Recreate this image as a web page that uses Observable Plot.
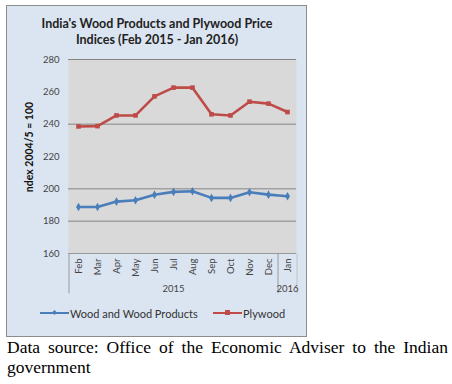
<!DOCTYPE html>
<html><head><meta charset="utf-8">
<script src="https://cdn.jsdelivr.net/npm/d3@7"></script>
<script src="https://cdn.jsdelivr.net/npm/@observablehq/plot@0.6"></script>
<style>
body{margin:0;background:#fff;}
#page{position:relative;width:452px;height:384px;overflow:hidden;}
#panel{position:absolute;left:6px;top:5px;width:299px;height:330px;background:#dbe5f1;border:1.5px solid #8c8c8c;}
#title{position:absolute;left:7px;top:16px;width:300px;text-align:center;font:bold 12.5px Lato,sans-serif;line-height:16px;color:#222;}
#chart{position:absolute;left:7px;top:50px;}
#ylab{position:absolute;left:29px;top:147px;transform:translate(-50%,-50%) rotate(-90deg);font:bold 10.5px Lato,sans-serif;white-space:nowrap;color:#111;}
#legend{position:absolute;top:306px;left:0;width:310px;font:11px Lato,sans-serif;color:#333;}
.lg{position:absolute;top:0;display:flex;align-items:center;height:14px;white-space:nowrap;}
.sw{display:inline-block;width:29px;height:2.5px;position:relative;margin-right:1px;}
#caption{position:absolute;left:7px;top:337px;width:441px;font:17.5px "Liberation Serif","Times New Roman",serif;line-height:20px;text-align:justify;text-align-last:left;color:#000;}
</style></head>
<body>
<div id="page">
<div id="panel"></div>
<div id="title">India's Wood Products and Plywood Price<br>Indices (Feb 2015 - Jan 2016)</div>
<div id="chart"></div>
<div id="ylab">ndex 2004/5 = 100</div>
<div id="legend"></div>
<div id="caption">Data source: Office of the Economic Adviser to the Indian government</div>
</div>
<script>
const months = ["Feb","Mar","Apr","May","Jun","Jul","Aug","Sep","Oct","Nov","Dec","Jan"];
const wood = [188.8,188.8,192.1,192.9,196.3,198.1,198.5,194.4,194.4,197.9,196.4,195.4];
const plywood = [238.6,238.8,245.4,245.4,257.2,262.6,262.6,246.1,245.4,253.9,252.7,247.5];
const seriesNames = ["Wood and Wood Products","Plywood"];
const seriesColors = ["#4a7ebb","#be4b48"];
const yTicks = [160,180,200,220,240,260,280];
const gridValues = [180,200,240,280];
const groupLabels = ["2015","2016"];
const groupAt = ["Jul","Jan"];
const groupEdges = ["Feb","Dec","Jan"];

const woodData = months.map((m,i)=>({month:m,value:wood[i]}));
const plyData = months.map((m,i)=>({month:m,value:plywood[i]}));

const chart = Plot.plot({
  width:300, height:250,
  marginLeft:61, marginRight:11, marginTop:9, marginBottom:47,
  style:{background:"transparent",fontFamily:"Lato, sans-serif",color:"#333",overflow:"visible"},
  x:{type:"point",domain:months,padding:0.5},
  y:{domain:[160,280]},
  marks:[
    Plot.frame({fill:"#d9d9d9",stroke:null}),
    Plot.ruleY(gridValues,{stroke:"#858585",strokeWidth:1}),
    Plot.ruleY([160],{stroke:"#9a9a9a",strokeWidth:1}),
    Plot.axisY({ticks:yTicks,tickSize:0,tickPadding:9,fontSize:9.5,label:null,fill:"#444"}),
    Plot.axisX({tickSize:0,tickPadding:5,tickRotate:-90,fontSize:9.5,label:null,fill:"#444"}),
    Plot.ruleX([groupEdges[0]],{dx:-9.5,y1:160,y2:135,stroke:"#9a9a9a"}),
    Plot.ruleX([groupEdges[1]],{dx:9.5,y1:160,y2:135,stroke:"#9a9a9a"}),
    Plot.ruleX([groupEdges[2]],{dx:9.5,y1:160,y2:135,stroke:"#c4c4c4"}),
    Plot.text(groupLabels,{x:(d,i)=>groupAt[i],y:138.2,text:d=>d,fontSize:9.5,fill:"#444"}),
    Plot.line(plyData,{x:"month",y:"value",stroke:seriesColors[1],strokeWidth:2.6}),
    Plot.dot(plyData,{x:"month",y:"value",symbol:"square",r:2.6,fill:seriesColors[1],stroke:null}),
    Plot.line(woodData,{x:"month",y:"value",stroke:seriesColors[0],strokeWidth:2.6}),
    Plot.dot(woodData,{x:"month",y:"value",symbol:"diamond",r:2.6,fill:seriesColors[0],stroke:null})
  ]
});
document.getElementById("chart").appendChild(chart);

const legend = document.getElementById("legend");
const lefts = [40,213];
seriesNames.forEach((n,i)=>{
  const d = document.createElement("div");
  d.className="lg"; d.style.left=lefts[i]+"px";
  const sw = document.createElement("span"); sw.className="sw"; sw.style.background=seriesColors[i];
  const mk = document.createElement("span");
  mk.style.cssText = "position:absolute;left:12px;top:-1.5px;width:5px;height:5px;background:"+seriesColors[i]+";"+(i===0?"transform:rotate(45deg) scale(0.7);":"");
  sw.appendChild(mk);
  d.appendChild(sw);
  d.appendChild(document.createTextNode(n));
  legend.appendChild(d);
});
</script>
</body></html>
